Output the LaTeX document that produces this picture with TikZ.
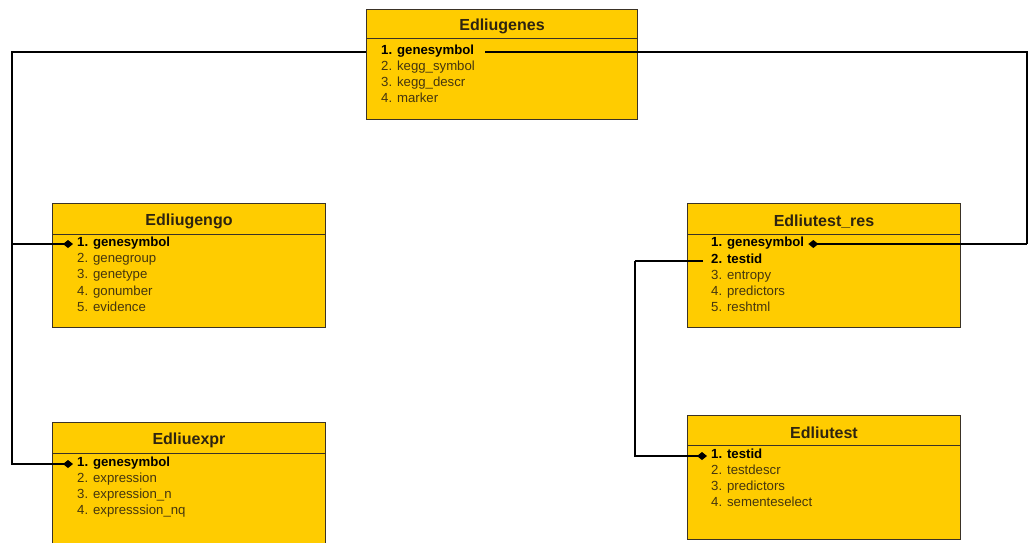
\documentclass[tikz,border=0pt]{standalone}
\usepackage{fontspec}
\setmainfont{Liberation Sans}
\usetikzlibrary{arrows.meta,calc}
\definecolor{entfill}{HTML}{FFCC00}
\definecolor{entline}{HTML}{3A3226}
\definecolor{rowtext}{HTML}{45360F}
\definecolor{titletext}{HTML}{2E2410}
\tikzset{
  entity/.style={draw=entline, line width=1pt, fill=entfill, anchor=north west, inner sep=0pt},
  etitle/.style={font=\fontsize{16}{16}\selectfont\bfseries, text=titletext, inner sep=0pt},
  row/.style={font=\fontsize{13.2}{13}\selectfont, text=rowtext, anchor=mid west, inner sep=1pt},
  keyrow/.style={row, text=black, font=\fontsize{13.2}{13}\selectfont\bfseries},
  conn/.style={line width=2.4pt, draw=black},
  tipd/.style={-{Diamond[length=10pt,width=8pt]}},
}
\newcommand{\entbox}[7]{% name, x, y, width, height, header height, title
  \node[entity, minimum width=#4pt, minimum height=#5pt] (#1) at (#2,#3) {};
  \draw[entline, line width=1pt] ($(#1.north west)+(0,#6)$) -- ($(#1.north east)+(0,#6)$);
  \node[etitle] (#1-t) at ($(#1.north)+(0,#6/2+3)$) {#7};
}
\begin{document}
\begin{tikzpicture}[x=1pt,y=-1pt]
\clip (0,0) rectangle (1029,542);
\fill[white] (0,0) rectangle (1029,542);

% Edliugenes
\entbox{genes}{366}{9}{271}{110}{29}{Edliugenes}
\node[keyrow] (genes-1) at (380,52) {1. genesymbol};
\node[row] (genes-2) at (380,68) {2. kegg\_symbol};
\node[row] (genes-3) at (380,84) {3. kegg\_descr};
\node[row] (genes-4) at (380,100) {4. marker};

% Edliugengo
\entbox{gengo}{52}{203}{273}{124}{31}{Edliugengo}
\node[keyrow] (gengo-1) at (76,244) {1. genesymbol};
\node[row] (gengo-2) at (76,260) {2. genegroup};
\node[row] (gengo-3) at (76,276) {3. genetype};
\node[row] (gengo-4) at (76,293) {4. gonumber};
\node[row] (gengo-5) at (76,309) {5. evidence};

% Edliuexpr
\entbox{expr}{52}{422}{273}{130}{31}{Edliuexpr}
\node[keyrow] (expr-1) at (76,464) {1. genesymbol};
\node[row] (expr-2) at (76,480) {2. expression};
\node[row] (expr-3) at (76,496) {3. expression\_n};
\node[row] (expr-4) at (76,512) {4. expresssion\_nq};

% Edliutest_res
\entbox{tres}{687}{203}{273}{124}{31}{Edliutest\_res}
\node[keyrow] (tres-1) at (710,244) {1. genesymbol};
\node[keyrow] (tres-2) at (710,261) {2. testid};
\node[row] (tres-3) at (710,277) {3. entropy};
\node[row] (tres-4) at (710,293) {4. predictors};
\node[row] (tres-5) at (710,309) {5. reshtml};

% Edliutest
\entbox{test}{687}{415}{273}{124}{30}{Edliutest}
\node[keyrow] (test-1) at (710,456) {1. testid};
\node[row] (test-2) at (710,472) {2. testdescr};
\node[row] (test-3) at (710,488) {3. predictors};
\node[row] (test-4) at (710,504) {4. sementeselect};

% relationship routing points
\coordinate (lbus) at (12,52);
\coordinate (rbus) at (1027,52);
\coordinate (tbus) at (635,261);

% genesymbol: Edliugenes -> Edliugengo / Edliuexpr
\draw[conn] (genes-1.mid west -| genes.west) -- (lbus |- genes-1.mid west) -- (lbus |- gengo-1.mid west);
\draw[conn,tipd] (lbus |- gengo-1.mid west) -- ([xshift=-3pt]gengo-1.mid west);
\draw[conn,tipd] (lbus |- gengo-1.mid west) |- ([xshift=-3pt]expr-1.mid west);

% genesymbol: Edliugenes -> Edliutest_res
\draw[conn] ([xshift=10pt]genes-1.mid east) -- (rbus |- genes-1.mid east) -- (rbus |- tres-1.mid east);
\draw[conn,tipd] (rbus |- tres-1.mid east) -- ([xshift=3pt]tres-1.mid east);

% testid: Edliutest_res -> Edliutest
\draw[conn] ([xshift=-7pt]tres-2.mid west) -- (tbus |- tres-2.mid west);
\draw[conn,tipd] (tbus |- tres-2.mid west) |- ([xshift=-3pt]test-1.mid west);
\end{tikzpicture}
\end{document}
